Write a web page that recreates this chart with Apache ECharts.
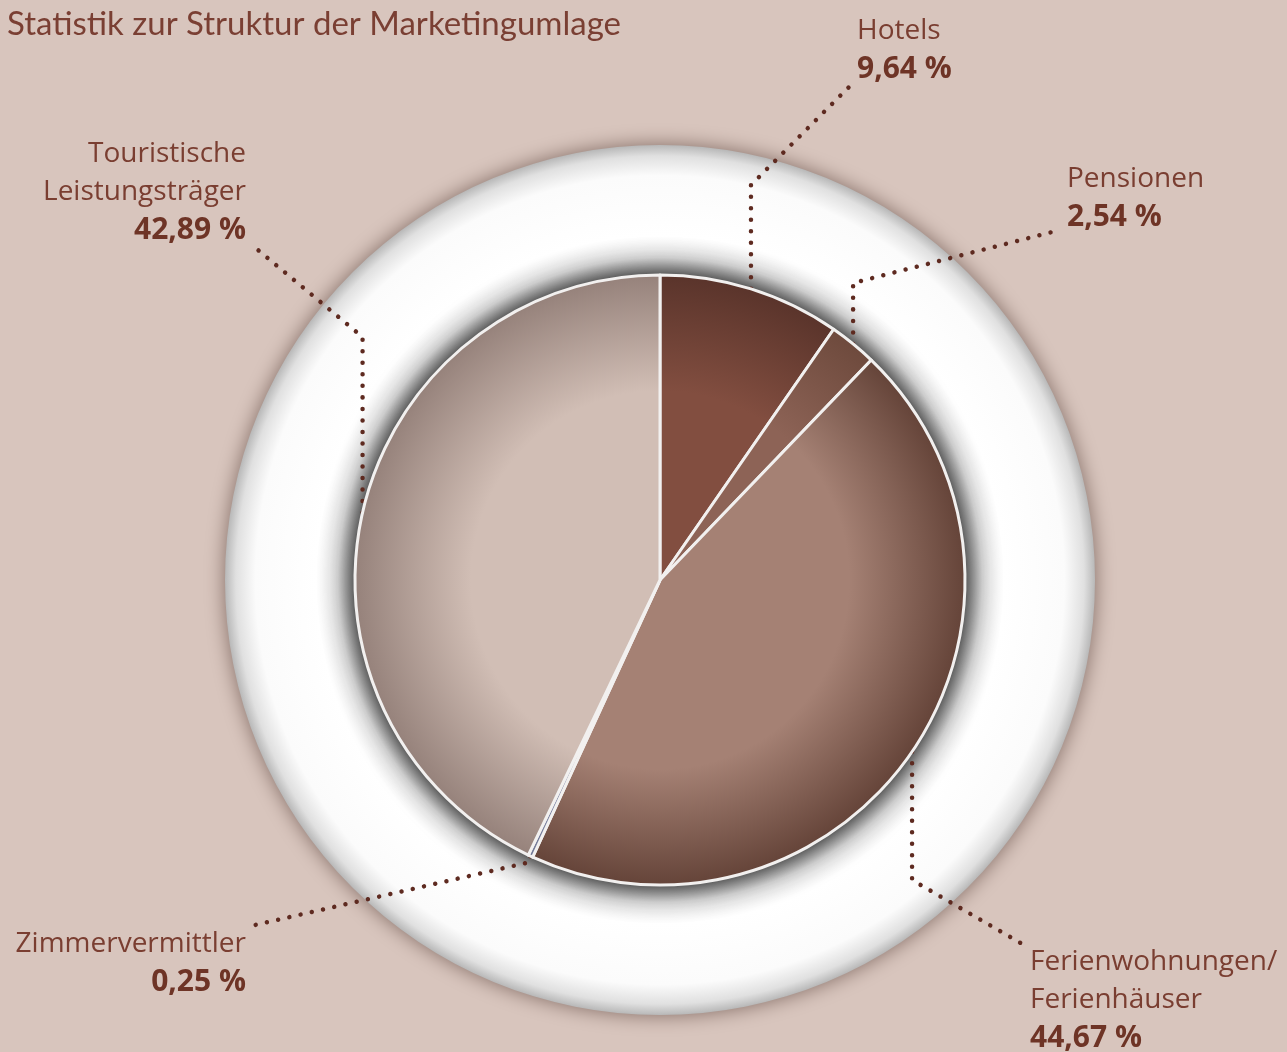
<!DOCTYPE html>
<html>
<head>
<meta charset="utf-8">
<script src="https://cdn.jsdelivr.net/npm/echarts@6/dist/echarts.min.js"></script>
<style>
  html, body { margin: 0; padding: 0; background: #d8c5bd; }
  #chart { width: 1287px; height: 1052px; }
</style>
</head>
<body>
<div id="chart"></div>
<script>
// Anteile der Marketingumlage (in %)
const categories = ['Hotels', 'Pensionen', 'Ferienwohnungen/\nFerienhäuser', 'Zimmervermittler', 'Touristische\nLeistungsträger'];
const shares = [9.64, 2.54, 44.67, 0.25, 42.89];

// Farben: innen / Rand
const innerColors = ['#824e40', '#8d6356', '#a58174', '#8f96b3', '#d1beb5'];
const edgeColors = ['#5a342b', '#6e4a3d', '#654439', '#707694', '#96827b'];

// Beschriftungen: Position und Knick der Führungslinie
const labelAnchors = [
    { x: 857, y: 12, align: 'left', elbowY: 185, endX: 850, endY: 86 },
    { x: 1067, y: 160, align: 'left', elbowY: 283, endX: 1060, endY: 230 },
    { x: 1030, y: 943, align: 'left', elbowY: 880, endX: 1024, endY: 945 },
    { x: 246, y: 925, align: 'right', elbowY: 862, endX: 255, endY: 925 },
    { x: 246, y: 135, align: 'right', elbowY: 337, endX: 258, endY: 250 }
];

const CX = 660, CY = 580, R_PIE = 305, R_RING = 435;
const textColor = '#7a3e31';
const fontFamily = '"Open Sans", "Noto Sans", sans-serif';

const myChart = echarts.init(document.getElementById('chart'));

const pieData = categories.map((name, i) => ({
    name: name,
    value: shares[i],
    itemStyle: {
        color: {
            type: 'radial', x: CX, y: CY, r: R_PIE, global: true,
            colorStops: [
                { offset: 0, color: innerColors[i] },
                { offset: 0.62, color: innerColors[i] },
                { offset: 1, color: edgeColors[i] }
            ]
        }
    }
}));

const formatLabel = (p) => {
    const lines = p.name.split('\n').map(t => '{n|' + t + '}');
    lines.push('{v|' + p.value.toFixed(2).replace('.', ',') + ' %}');
    return lines.join('\n');
};

const option = {
    backgroundColor: '#d8c5bd',
    animation: false,
    title: {
        text: 'Statistik zur Struktur der Marketingumlage',
        left: 2,
        top: 3,
        textStyle: {
            fontFamily: 'Lato, sans-serif',
            fontSize: 33,
            fontWeight: 'normal',
            color: '#7a3f33'
        }
    },
    series: [
        {
            // weißer Ring
            type: 'pie',
            z: 1,
            silent: true,
            center: [CX, CY],
            radius: [R_PIE - 5, R_RING],
            label: { show: false },
            labelLine: { show: false },
            emphasis: { disabled: true },
            data: [{
                value: 1,
                itemStyle: {
                    color: {
                        type: 'radial', x: 0.5, y: 0.5, r: 0.5,
                        colorStops: [
                            { offset: 0.69, color: '#8c8c8c' },
                            { offset: 0.74, color: '#e6e6e6' },
                            { offset: 0.79, color: '#ffffff' },
                            { offset: 0.93, color: '#fbfbfb' },
                            { offset: 0.975, color: '#e0e0e0' },
                            { offset: 1, color: '#b8b8b8' }
                        ]
                    },
                    shadowBlur: 20,
                    shadowColor: 'rgba(70, 45, 38, 0.6)'
                }
            }]
        },
        {
            // Schatten unter dem Kreis
            type: 'pie',
            z: 2,
            silent: true,
            center: [CX, CY],
            radius: [0, R_PIE],
            label: { show: false },
            labelLine: { show: false },
            emphasis: { disabled: true },
            data: [{
                value: 1,
                itemStyle: {
                    color: '#444',
                    shadowBlur: 32,
                    shadowColor: 'rgba(0, 0, 0, 0.9)'
                }
            }]
        },
        {
            name: 'Marketingumlage',
            type: 'pie',
            z: 3,
            center: [CX, CY],
            radius: [0, R_PIE],
            startAngle: 90,
            clockwise: true,
            avoidLabelOverlap: false,
            itemStyle: {
                borderColor: '#f2f0ef',
                borderWidth: 3
            },
            emphasis: { disabled: true },
            label: {
                show: true,
                position: 'outside',
                formatter: formatLabel,
                rich: {
                    n: { fontFamily: fontFamily, fontSize: 28, color: textColor, lineHeight: 38 },
                    v: { fontFamily: fontFamily, fontSize: 30, fontWeight: 'bold', color: '#6e3426', lineHeight: 38 }
                }
            },
            labelLine: {
                show: true,
                length: 20,
                length2: 20,
                lineStyle: {
                    color: '#5e2a20',
                    width: 4.5,
                    type: [0.01, 11.5],
                    cap: 'round'
                }
            },
            labelLayout: function (params) {
                const a = labelAnchors[params.dataIndex];
                const p0 = params.labelLinePoints ? params.labelLinePoints[0] : [a.endX, a.endY];
                return {
                    x: a.x,
                    y: a.y,
                    align: a.align,
                    verticalAlign: 'top',
                    labelLinePoints: [
                        [p0[0], p0[1]],
                        [p0[0], a.elbowY],
                        [a.endX, a.endY]
                    ]
                };
            },
            data: pieData
        }
    ]
};

myChart.setOption(option);
</script>
</body>
</html>
